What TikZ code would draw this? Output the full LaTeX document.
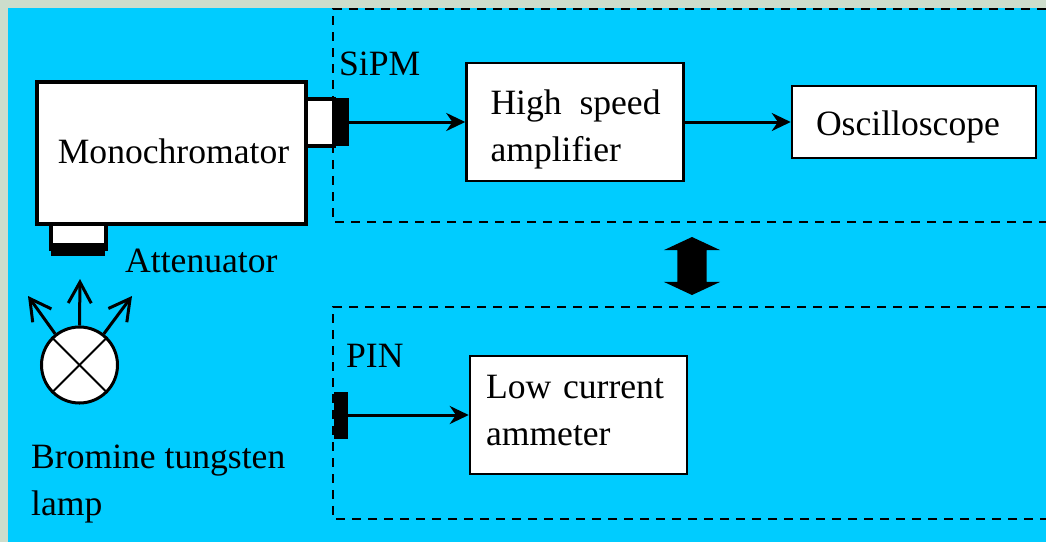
\documentclass[tikz,border=0pt]{standalone}
\usepackage{fontspec}
\setmainfont{Liberation Serif}
\usetikzlibrary{arrows.meta,shapes.arrows}
\definecolor{skyback}{HTML}{00CCFF}
\definecolor{paleback}{HTML}{CDDDCC}
\tikzset{
  label/.style={font=\fontsize{35.6}{47}\selectfont, inner sep=0pt, anchor=base west, align=left},
  whitebox/.style={draw, fill=white, line width=2.5pt, font=\fontsize{35.6}{47}\selectfont, align=left, inner ysep=0pt},
  textdown/.style={execute at begin node={\rule{0pt}{#1}}},
  textup/.style={execute at end node={\par\vspace*{#1}}},
  partbox/.style={draw, fill=white, line width=4pt, inner sep=0pt},
  sensor/.style={fill=black, inner sep=0pt},
  signal/.style={line width=3pt, -{Stealth[length=19pt,width=18pt]}},
  frame/.style={line width=2.5pt, dash pattern=on 9pt off 7pt},
  ray/.style={line width=3pt, -{Straight Barb[length=21pt,width=23pt,line width=3pt]}}
}
\begin{document}
\begin{tikzpicture}[x=1pt,y=-1pt]
        \useasboundingbox (0,0) rectangle (1046,542);
        \fill[paleback] (0,0) rectangle (1046,542);
        \fill[skyback] (8,8) rectangle (1046,542);
        \draw[frame] (1046,9) -- (333,9) -- (333,222) -- (1046,222);
        \draw[frame] (1046,307) -- (333,307) -- (333,519) -- (1046,519);
        \node[partbox, minimum width=55pt, minimum height=40pt] (atten) at (78.5,229) {};
        \node[sensor, minimum width=54pt, minimum height=13pt] (filter) at (78,249.5) {};
        \node[partbox, minimum width=40pt, minimum height=47pt] (port) at (314,122.5) {};
        \node[partbox, minimum width=269pt, minimum height=142pt, font=\fontsize{35.6}{47}\selectfont] (mono) at (171.5,153) {\hspace*{4pt}\raisebox{4pt}{Monochromator}};
        \node[sensor, minimum width=13pt, minimum height=48pt] (sipm) at (342.5,122) {};
        \node[whitebox, textdown=39pt, text width=169pt, inner xsep=24pt, minimum height=118pt] (amp) at (575,122) {\mbox{High\hspace{6pt} speed}\\amplifier};
        \node[whitebox, textdown=35pt, minimum height=72pt, text width=196pt, inner xsep=24pt] (scope) at (914,122) {Oscilloscope};
        \node[sensor, minimum width=14pt, minimum height=47pt] (pin) at (341,415) {};
        \node[whitebox, textup=8pt, text width=185pt, inner xsep=16pt, minimum height=118pt] (ammeter) at (578.5,415) {Low current\\ammeter};
        \draw[signal] (sipm.east) -- (amp.west);
        \draw[signal] (amp.east) -- (scope.west);
        \draw[signal] (pin.east) -- (ammeter.west);
        \node[double arrow, fill=black, rotate=90, inner sep=14.5pt, minimum height=58pt, minimum width=56pt, double arrow head extend=13.5pt, double arrow tip angle=130] (switch) at (692,266) {};
        \node[circle, draw, fill=white, line width=3pt, minimum size=76pt, inner sep=0pt] (lamp) at (79.5,365) {};
        \draw[line width=2pt] (lamp.45) -- (lamp.225);
        \draw[line width=2pt] (lamp.135) -- (lamp.315);
        \coordinate (rayl) at (28,296);
        \coordinate (rayc) at (80,279);
        \coordinate (rayr) at (132,296);
        \draw[ray] (lamp.128) -- (rayl);
        \draw[ray] (lamp.north) -- (rayc);
        \draw[ray] (lamp.52) -- (rayr);
        \node[label] (sipmtext) at (339,75) {SiPM};
        \node[label] (attentext) at (125,272) {Attenuator};
        \node[label] (pintext) at (346,367) {PIN};
        \node[label] (lamptext) at (31,515) {Bromine tungsten\\lamp};
\end{tikzpicture}
\end{document}
